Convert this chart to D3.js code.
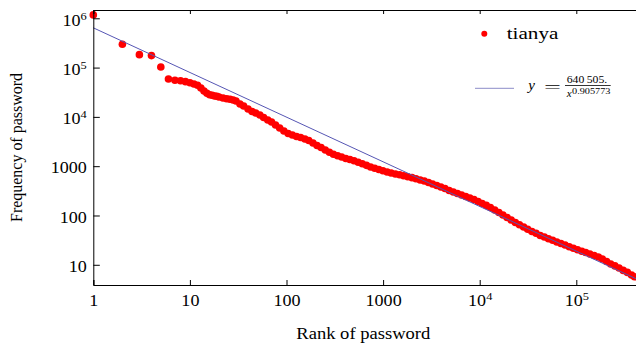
<!DOCTYPE html>
<html>
<head>
<meta charset="utf-8">
<script src="https://cdn.jsdelivr.net/npm/d3@7"></script>
<style>
    body { margin: 0; background: #fff; }
    text { font-family: "Liberation Serif", "Times New Roman", Times, serif; fill: #000; }
</style>
</head>
<body>
<div id="chart"></div>
<script>
// rank of password (x) and its frequency (y)
let ranks = [1, 2, 3, 4, 5, 6, 7, 8, 9, 10, 11, 12, 13, 14, 15, 16, 17, 18, 19, 20,
    22, 24, 26, 28, 30, 33, 36, 40, 44, 48, 53, 58, 64, 70, 77,
    85, 94, 104, 115, 127, 140, 155, 170, 188, 207,
    228, 252, 278, 306, 338, 372, 411, 453, 500, 552,
    609, 672, 741, 818, 903, 996, 1100, 1210, 1340, 1480,
    1630, 1800, 1990, 2190, 2420, 2670, 2950, 3250, 3590, 3960,
    4370, 4830, 5330, 5880, 6490, 7160, 7900, 8720, 9630, 10600,
    11700, 12900, 14300, 15800, 17400, 19200, 21200, 23400, 25800, 28500,
    31400, 34700, 38300, 42300, 46700, 51500, 56900, 62800, 69300, 76500,
    84500, 93300, 103000, 114000, 125000, 138000, 153000, 169000, 186000, 206000,
    227000, 251000, 277000, 306000, 338000, 373000, 400000];
let freqs = [1170000, 297000, 183000, 175000, 103000, 58700, 55200, 54200, 51800, 49400,
    46500, 43700, 38600, 33500, 30100, 28200, 27400, 26500, 26200, 25400,
    24200, 23400, 22800, 22000, 21000, 18300, 16600, 14500, 12900, 12000, 10900, 9720, 8650, 7880, 6850,
    5960, 5180, 4610, 4290, 4000, 3820, 3560, 3320, 2960, 2630,
    2400, 2130, 1920, 1750, 1630, 1540, 1430, 1370, 1290, 1200,
    1120, 1040, 963, 906, 857, 807, 762, 728, 695, 670,
    639, 610, 585, 558, 525, 501, 467, 435, 405, 378,
    353, 321, 300, 279, 261, 243, 226, 211, 192, 175,
    160, 145, 129, 115, 102, 91, 81, 72, 64.7, 58.4,
    52.5, 47.3, 43.5, 39.3, 36.6, 33.7, 31.4, 29.0, 27.0, 25.2,
    23.2, 21.6, 20.2, 18.8, 17.7, 16.6, 15.4, 14.4, 13.1, 11.7,
    10.4, 9.5, 8.6, 7.7, 7.0, 6.2, 5.7];

// power law fit y = a / x^b
let fit_a = 640505;
let fit_b = 0.905773;

// tick values
let x_ticks = [1, 10, 100, 1000, 1e4, 1e5];
let y_ticks = [10, 100, 1000, 1e4, 1e5, 1e6];

let series_name = "tianya";

let width = 636, height = 343;
let margin = {left: 93.3, right: 0, top: 10, bottom: 58};
let stretch = 1.13; // text in the picture is a bit wide

let svg = d3.select("#chart").append("svg")
    .attr("width", width)
    .attr("height", height);

let x = d3.scaleLog()
    .domain([1, Math.pow(10, 5.618)])
    .range([margin.left, width - margin.right]);

let y = d3.scaleLog()
    .domain([Math.pow(10, 0.59), Math.pow(10, 6.168)])
    .range([height - margin.bottom, margin.top]);

// minor ticks 2..9 inside the domain
function minor_ticks(scale) {
    let d = scale.domain(), out = [];
    for (let k = -1; k <= 7; k++) {
        for (let m = 2; m <= 9; m++) {
            let v = m * Math.pow(10, k);
            if (v > d[0] && v < d[1]) out.push(v);
        }
    }
    return out;
}

// labels like 10^4 with a raised exponent
function power_label(sel) {
    sel.each(function (d) {
        let t = d3.select(this);
        t.text(null);
        let e = Math.round(Math.log10(d));
        if (e < 4) {
            t.text(String(d));
        } else {
            t.append("tspan").text("10");
            t.append("tspan").attr("dy", "-6").style("font-size", "11px").text(e);
        }
    });
}

// data points
let points = ranks.map(function (r, i) { return {rank: r, freq: freqs[i]}; });

svg.append("g")
    .selectAll("circle")
    .data(points)
    .enter().append("circle")
    .attr("cx", function (d) { return x(d.rank); })
    .attr("cy", function (d) { return y(d.freq); })
    .attr("r", 3.8)
    .attr("fill", "#ff0000");

// fitted line
let fit_x = x.domain();
svg.append("path")
    .datum(fit_x.map(function (v) { return [v, fit_a / Math.pow(v, fit_b)]; }))
    .attr("d", d3.line().x(function (d) { return x(d[0]); }).y(function (d) { return y(d[1]); }))
    .attr("fill", "none")
    .attr("stroke", "#5656b4")
    .attr("stroke-width", 1);

// axes, ticks pointing inward
let y0 = height - margin.bottom;

let bottom = svg.append("g").attr("transform", "translate(0," + y0 + ")");
bottom.call(d3.axisBottom(x).tickValues(minor_ticks(x)).tickSize(-2.5).tickFormat(""));
bottom.call(d3.axisBottom(x).tickValues(x_ticks).tickSize(-5).tickPadding(9.5).tickFormat(""));

let top_axis = svg.append("g").attr("transform", "translate(0," + margin.top + ")");
top_axis.call(d3.axisTop(x).tickValues(minor_ticks(x)).tickSize(-2).tickFormat(""));
top_axis.call(d3.axisTop(x).tickValues(x_ticks).tickSize(-4).tickFormat(""));

let left = svg.append("g").attr("transform", "translate(" + margin.left + ",0)");
left.call(d3.axisLeft(y).tickValues(minor_ticks(y)).tickSize(-3).tickFormat(""));
left.call(d3.axisLeft(y).tickValues(y_ticks).tickSize(-6.5).tickPadding(5.5).tickFormat(""));

svg.selectAll(".domain").attr("stroke", "#000").attr("stroke-width", 1);
svg.selectAll(".tick line").attr("stroke", "#000").attr("stroke-width", 1);

// tick labels
bottom.selectAll(".tick")
    .filter(function (d) { return x_ticks.indexOf(d) >= 0; })
    .select("text")
    .attr("y", null).attr("dy", null)
    .attr("transform", "translate(0,20.5) scale(" + stretch + ",1)")
    .attr("text-anchor", "middle")
    .style("font-size", "16px")
    .call(power_label);

left.selectAll(".tick")
    .filter(function (d) { return y_ticks.indexOf(d) >= 0; })
    .select("text")
    .attr("x", null).attr("dy", null)
    .attr("transform", "translate(-6.5,6.8) scale(" + stretch + ",1)")
    .attr("text-anchor", "end")
    .style("font-size", "16px")
    .call(power_label);

// axis titles
svg.append("text")
    .attr("transform", "translate(363.3,339.3)")
    .attr("text-anchor", "middle")
    .attr("textLength", 134)
    .attr("lengthAdjust", "spacingAndGlyphs")
    .style("font-size", "16px")
    .text("Rank of password");

svg.append("text")
    .attr("transform", "translate(21.5,147.5) rotate(-90)")
    .attr("text-anchor", "middle")
    .attr("textLength", 149)
    .attr("lengthAdjust", "spacingAndGlyphs")
    .style("font-size", "16px")
    .text("Frequency of password");

// legend
let legend = svg.append("g");
legend.append("circle")
    .attr("cx", 484.3).attr("cy", 33.7).attr("r", 3)
    .attr("fill", "#ff0000");
legend.append("text")
    .attr("x", 506.7).attr("y", 39.3)
    .attr("textLength", 51.7)
    .attr("lengthAdjust", "spacingAndGlyphs")
    .style("font-size", "17px")
    .text(series_name);

legend.append("line")
    .attr("x1", 475).attr("x2", 514).attr("y1", 88.3).attr("y2", 88.3)
    .attr("stroke", "#8c8cc8").attr("stroke-width", 1);
legend.append("text")
    .attr("x", 528.3).attr("y", 90)
    .style("font-size", "15px").style("font-style", "italic")
    .text("y");
legend.append("text")
    .attr("transform", "translate(544,92) scale(2,1)")
    .style("font-size", "15px")
    .text("=");
legend.append("text")
    .attr("x", 566.7).attr("y", 82.7)
    .attr("textLength", 40.6)
    .attr("lengthAdjust", "spacingAndGlyphs")
    .style("font-size", "10.5px")
    .text("640\u2009505.");
legend.append("line")
    .attr("x1", 565).attr("x2", 610.7).attr("y1", 85.5).attr("y2", 85.5)
    .attr("stroke", "#000").attr("stroke-width", 0.8);
legend.append("text")
    .attr("x", 566.7).attr("y", 97)
    .style("font-size", "11px").style("font-style", "italic")
    .text("x");
legend.append("text")
    .attr("x", 572).attr("y", 94)
    .attr("textLength", 38.5)
    .attr("lengthAdjust", "spacingAndGlyphs")
    .style("font-size", "9px")
    .text(String(fit_b));
</script>
</body>
</html>
